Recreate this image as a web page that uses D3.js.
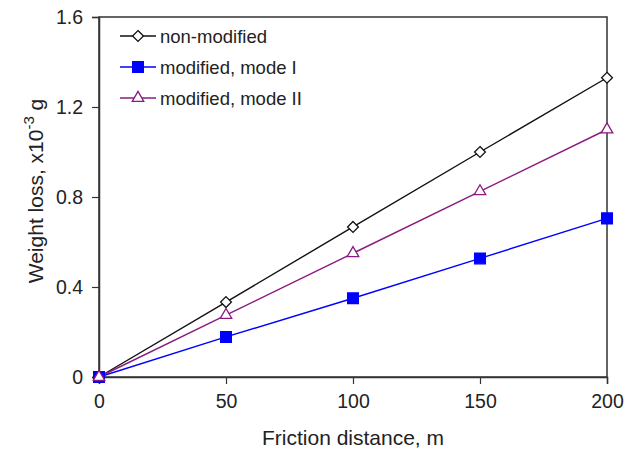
<!DOCTYPE html>
<html>
<head>
<meta charset="utf-8">
<script src="https://cdn.jsdelivr.net/npm/d3@7"></script>
<style>
  body { margin: 0; background: #fff; }
  text { font-family: "Liberation Sans", Arial, sans-serif; fill: #222; }
</style>
</head>
<body>
<svg id="chart" width="634" height="450"></svg>
<script>
// data
let distance = [0, 50, 100, 150, 200];
let nonModified = [0, 0.333, 0.667, 1.0, 1.33];
let modeI = [0, 0.178, 0.35, 0.527, 0.705];
let modeII = [0, 0.275, 0.55, 0.825, 1.1];
let xTicks = [0, 50, 100, 150, 200];
let yTicks = [0, 0.4, 0.8, 1.2, 1.6];

let margin = { top: 17, right: 27, bottom: 73, left: 99 };
let width = 634 - margin.left - margin.right;
let height = 450 - margin.top - margin.bottom;

let series = [
    { name: 'non-modified', values: nonModified, color: '#111', marker: 'diamond', fill: '#fff' },
    { name: 'modified, mode I', values: modeI, color: '#0000ff', marker: 'square', fill: '#0000ff' },
    { name: 'modified, mode II', values: modeII, color: '#8b1a7f', marker: 'triangle', fill: '#fff' }
];

let svg = d3.select('#chart');
let g = svg.append('g').attr('transform', 'translate(' + margin.left + ',' + margin.top + ')');

let x = d3.scaleLinear().domain([0, 200]).range([0, width]);
let y = d3.scaleLinear().domain([0, 1.6]).range([height, 0]);

// frame
g.append('rect')
    .attr('width', width).attr('height', height)
    .attr('fill', 'none').attr('stroke', '#333').attr('stroke-width', 1.5);

let xAxis = g.append('g').attr('transform', 'translate(0,' + height + ')')
    .call(d3.axisBottom(x).tickValues(xTicks).tickSize(7).tickPadding(10));
let yAxis = g.append('g')
    .call(d3.axisLeft(y).tickValues(yTicks).tickSize(7).tickPadding(9)
        .tickFormat(d => d === 0 ? '0' : d3.format('.1f')(d)));

[xAxis, yAxis].forEach(a => {
    a.select('.domain').attr('stroke', '#333').attr('stroke-width', 1.5);
    a.selectAll('.tick line').attr('stroke', '#333').attr('stroke-width', 1.2);
    a.selectAll('text').attr('font-size', 19.5).attr('fill', '#222')
        .attr('font-family', '"Liberation Sans", Arial, sans-serif');
});

function symbolFor(m) {
    if (m === 'diamond') return d3.symbol().type(d3.symbolDiamond2).size(75);
    if (m === 'square') return d3.symbol().type(d3.symbolSquare).size(115);
    return d3.symbol().type(d3.symbolTriangle2).size(95);
}

let line = d3.line().x((d, i) => x(distance[i])).y(d => y(d));

for (let s of series) {
    g.append('path')
        .datum(s.values)
        .attr('d', line)
        .attr('fill', 'none')
        .attr('stroke', s.color)
        .attr('stroke-width', 1.4);
}
// draw markers after lines
for (let s of series) {
    g.selectAll('.m-' + s.marker)
        .data(s.values)
        .enter().append('path')
        .attr('class', 'm-' + s.marker)
        .attr('transform', (d, i) => 'translate(' + x(distance[i]) + ',' + y(d) + ')')
        .attr('d', symbolFor(s.marker))
        .attr('fill', s.fill)
        .attr('stroke', s.color)
        .attr('stroke-width', 1.3);
}

// legend
let legend = g.append('g').attr('transform', 'translate(21,19)');
series.forEach((s, i) => {
    let row = legend.append('g').attr('transform', 'translate(0,' + (i * 31) + ')');
    row.append('line').attr('x1', 0).attr('x2', 36).attr('stroke', s.color).attr('stroke-width', 1.4);
    row.append('path').attr('transform', 'translate(18,0)')
        .attr('d', symbolFor(s.marker))
        .attr('fill', s.fill).attr('stroke', s.color).attr('stroke-width', 1.3);
    row.append('text').attr('x', 40).attr('y', 6.5).attr('font-size', 18.5).text(s.name);
});

// axis titles
svg.append('text')
    .attr('x', margin.left + width / 2).attr('y', 445)
    .attr('text-anchor', 'middle').attr('font-size', 21)
    .text('Friction distance, m');

let yt = svg.append('text')
    .attr('transform', 'translate(43,' + 191 + ') rotate(-90)')
    .attr('text-anchor', 'middle').attr('font-size', 21);
yt.append('tspan').text('Weight loss, x10');
yt.append('tspan').attr('dy', -9).attr('font-size', 15).text('-3');
yt.append('tspan').attr('dy', 9).text(' g');
</script>
</body>
</html>
